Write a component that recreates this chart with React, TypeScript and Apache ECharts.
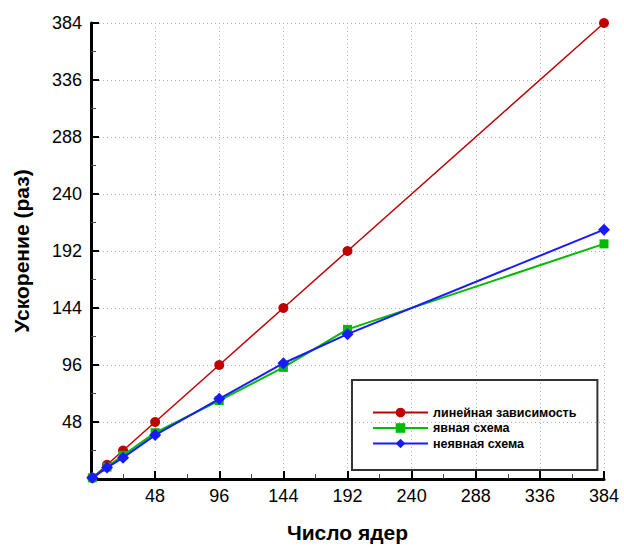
import React, { useEffect, useRef } from "react";
import * as echarts from "echarts";

// Number of cores and measured speed-ups
const cores = [1, 12, 24, 48, 96, 144, 192, 384];
const linearSpeedup = [1, 12, 24, 48, 96, 144, 192, 384];
const explicitSpeedup = [1, 10, 20, 39, 66, 94, 126, 198];
const implicitSpeedup = [1, 9.6, 18, 37, 67.5, 97.5, 122, 210];

const seriesNames = ["линейная зависимость", "явная схема", "неявная схема"];
const axisTicks = [0, 48, 96, 144, 192, 240, 288, 336, 384];

const FONT = "'Liberation Sans', Arial, Helvetica, sans-serif";

const pairs = (xs: number[], ys: number[]) => xs.map((x, i) => [x, ys[i]]);

export default function App() {
  const ref = useRef<HTMLDivElement>(null);

  useEffect(() => {
    if (!ref.current) return;
    const chart = echarts.init(ref.current, undefined, { renderer: "svg" });

    const axisCommon = {
      type: "value" as const,
      min: axisTicks[0],
      max: axisTicks[axisTicks.length - 1],
      interval: 48,
      axisLine: { show: true, onZero: false, lineStyle: { color: "#000", width: 3 } },
      axisTick: { show: true, inside: true, length: 8, lineStyle: { color: "#000", width: 2 } },
      minorTick: { show: true, splitNumber: 2, length: 5, lineStyle: { color: "#444", width: 1 } },
      splitLine: {
        show: true,
        lineStyle: { color: "#b0b0b0", type: [1, 3], width: 1 },
      },
      axisLabel: {
        color: "#000",
        fontFamily: FONT,
        fontSize: 18,
        formatter: (v: number) => (v === 0 ? "" : String(v)),
      },
      nameLocation: "middle" as const,
      nameTextStyle: { color: "#000", fontFamily: FONT, fontSize: 21, fontWeight: "bold" as const },
    };

    chart.setOption({
      animation: false,
      backgroundColor: "#fff",
      grid: { left: 91, right: 20, top: 23, bottom: 58, containLabel: false },
      xAxis: {
        ...axisCommon,
        name: "Число ядер",
        nameGap: 43,
        axisLabel: { ...axisCommon.axisLabel, margin: 8 },
      },
      yAxis: {
        ...axisCommon,
        name: "Ускорение (раз)",
        nameGap: 59,
        axisLabel: { ...axisCommon.axisLabel, margin: 9 },
      },
      legend: {
        orient: "vertical",
        left: 352,
        top: 380,
        width: 205,
        padding: [26, 21, 20, 20],
        itemWidth: 55,
        itemHeight: 12,
        itemGap: 2.5,
        borderColor: "#333",
        borderWidth: 2,
        textStyle: { color: "#000", fontFamily: FONT, fontSize: 12.5, fontWeight: "bold" },
        data: seriesNames,
      },
      series: [
        {
          name: seriesNames[0],
          type: "line",
          data: pairs(cores, linearSpeedup),
          color: "#c00000",
          symbol: "circle",
          symbolSize: 10,
          lineStyle: { width: 1.5 },
          z: 2,
        },
        {
          name: seriesNames[1],
          type: "line",
          data: pairs(cores, explicitSpeedup),
          color: "#00bb00",
          symbol: "rect",
          symbolSize: 9,
          lineStyle: { width: 2 },
          z: 3,
        },
        {
          name: seriesNames[2],
          type: "line",
          data: pairs(cores, implicitSpeedup),
          color: "#1a1aff",
          symbol: "diamond",
          symbolSize: 12,
          lineStyle: { width: 2 },
          z: 4,
        },
      ],
    });

    return () => chart.dispose();
  }, []);

  return (
    <div
      ref={ref}
      style={{ position: "fixed", left: 0, top: 0, width: 624, height: 548 }}
    />
  );
}
